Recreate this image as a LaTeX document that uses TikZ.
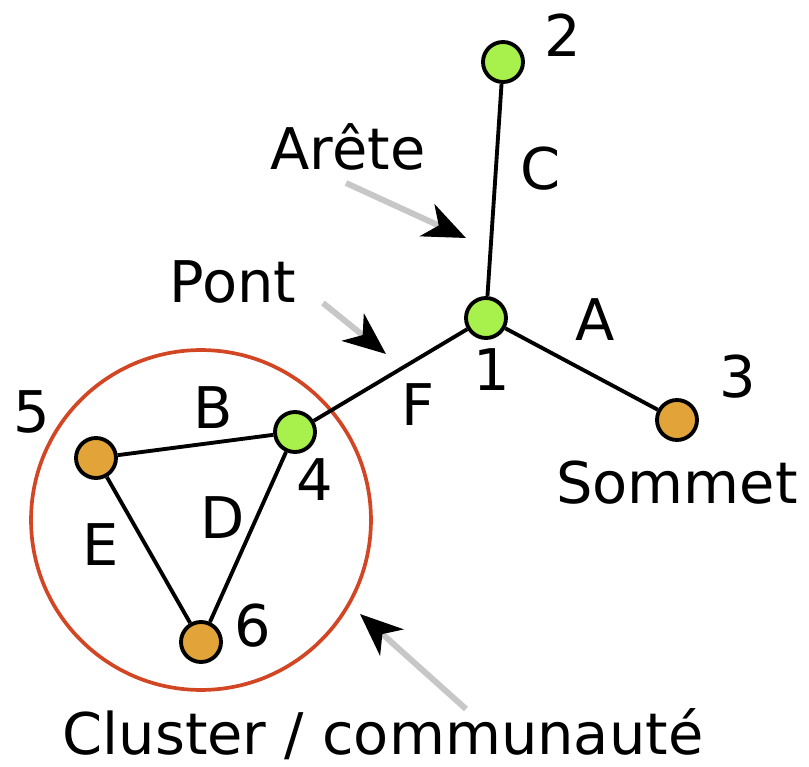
\documentclass[tikz,border=0pt]{standalone}
\usepackage{fontspec}
\setmainfont{DejaVu Sans}
\usepackage{tikz}
\usetikzlibrary{arrows.meta}

\definecolor{vert}{RGB}{168,240,76}
\definecolor{orange}{RGB}{226,164,56}
\definecolor{rouge}{RGB}{210,70,36}

\tikzset{
	sommet/.style={circle,draw=black,line width=2.2pt,minimum size=0.8cm,inner sep=0pt},
	arete/.style={line width=2.2pt},
	etiquette/.style={anchor=base,inner sep=0pt,font=\fontsize{32.7}{39}\selectfont},
	fleche/.style={draw=black!22,line width=3.4pt,-{Stealth[black,length=0.85cm,width=0.7cm,inset=0.25cm]}}
}

\begin{document}
\begin{tikzpicture}[x=0.02cm,y=-0.02cm]
		\useasboundingbox (0,0) rectangle (809,767);
%		\draw[help lines,step=50] (0,0) grid (809,767);
		\path (201,520) node(cluster) [circle,draw=rouge,line width=2.1pt,minimum size=6.8cm] {};
		\path (486,318) node(s1) [sommet,fill=vert] {};
		\path (503,62) node(s2) [sommet,fill=vert] {};
		\path (677,420) node(s3) [sommet,fill=orange] {};
		\path (295,432) node(s4) [sommet,fill=vert] {};
		\path (96,458) node(s5) [sommet,fill=orange] {};
		\path (201,642) node(s6) [sommet,fill=orange] {};

		\draw[arete] (s1) -- (s2);
		\draw[arete] (s1) -- (s3);
		\draw[arete] (s1) -- (s4);
		\draw[arete] (s4) -- (s5);
		\draw[arete] (s4) -- (s6);
		\draw[arete] (s5) -- (s6);

		\path (563,57) node(n2) [etiquette] {2};
		\path (492,390) node(n1) [etiquette] {1};
		\path (738,398) node(n3) [etiquette] {3};
		\path (315,500) node(n4) [etiquette] {4};
		\path (32,432) node(n5) [etiquette] {5};
		\path (253,646) node(n6) [etiquette] {6};

		\path (541,190) node(lC) [etiquette] {C};
		\path (595,340) node(lA) [etiquette] {A};
		\path (418,425) node(lF) [etiquette] {F};
		\path (213,428) node(lB) [etiquette] {B};
		\path (223,538) node(lD) [etiquette] {D};
		\path (101,565) node(lE) [etiquette] {E};

		\path (348,170) node(arete_txt) [etiquette] {Arête};
		\path (233,302) node(pont_txt) [etiquette] {Pont};
		\path (677,503) node(sommet_txt) [etiquette] {Sommet};
		\path (383,754) node(cluster_txt) [etiquette] {Cluster / communauté};

		\path (346,183) coordinate (arete_de);
		\path (466,238) coordinate (arete_a);
		\path (323,303) coordinate (pont_de);
		\path (386,354) coordinate (pont_a);
		\path (466,709) coordinate (cluster_de);
		\path (360,614) coordinate (cluster_a);
		\draw[fleche] (arete_de) -- (arete_a);
		\draw[fleche] (pont_de) -- (pont_a);
		\draw[fleche] (cluster_de) -- (cluster_a);
	\end{tikzpicture}
\end{document}
